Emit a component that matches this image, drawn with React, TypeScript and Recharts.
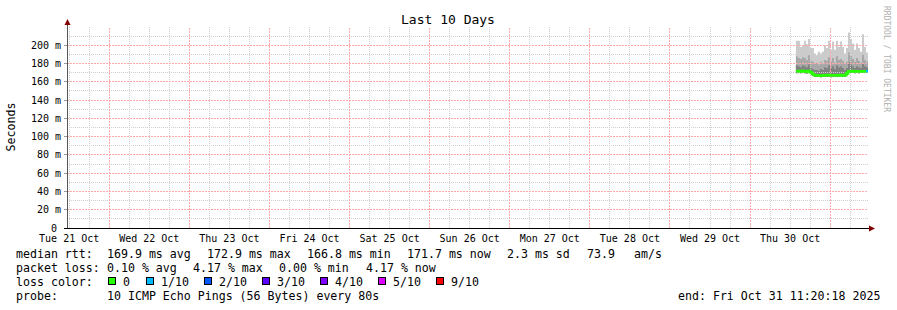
import React from 'react';
import { ComposedChart, Area, Line, XAxis, YAxis, ReferenceLine } from 'recharts';

// axis labels
const dayLabels = ['Tue 21 Oct', 'Wed 22 Oct', 'Thu 23 Oct', 'Fri 24 Oct', 'Sat 25 Oct', 'Sun 26 Oct', 'Mon 27 Oct', 'Tue 28 Oct', 'Wed 29 Oct', 'Thu 30 Oct'];
const yTicks = [0, 20, 40, 60, 80, 100, 120, 140, 160, 180, 200];

// loss legend
const lossSteps = [0, 1, 2, 3, 4, 5, 9];
const lossLabels = ['0', '1/10', '2/10', '3/10', '4/10', '5/10', '9/10'];
const lossPalette = ['#26ff00', '#00b8ff', '#0059ff', '#5e00ff', '#7e00ff', '#dd00ff', '#ff0000'];

// rtt samples (ms), one per step, hours since Oct 21 11:20:18
const firstHour = 218.4;
const stepHours = 0.6;
const maxRtt = [205, 205, 198, 200, 205, 201, 207, 197, 197, 191, 189, 193, 191, 193, 200, 197, 205, 195, 204, 195, 205, 198, 204, 198, 191, 197, 214, 207, 202, 195, 202, 197, 193, 212, 198, 192];
const upperRtt = [188, 186, 185, 187, 186, 184, 189, 183, 182, 180, 181, 179, 182, 180, 184, 183, 187, 182, 186, 181, 188, 184, 185, 183, 180, 182, 192, 188, 185, 182, 186, 183, 181, 190, 184, 182];
const innerRtt = [178, 177, 176, 178, 177, 176, 179, 175, 174, 173, 173, 172, 174, 173, 176, 175, 178, 175, 177, 174, 178, 176, 177, 175, 173, 175, 181, 179, 177, 175, 177, 176, 175, 180, 177, 176];
const medianRtt = [171.5, 171.8, 171.2, 172.0, 171.5, 171.0, 171.8, 170.5, 168.5, 167.2, 166.8, 167.0, 166.6, 167.2, 166.9, 167.1, 167.5, 166.8, 167.0, 167.3, 166.9, 167.2, 167.6, 167.0, 167.3, 169.0, 171.6, 171.4, 171.8, 171.3, 171.6, 171.2, 171.7, 171.4, 171.5, 171.7];
const minRtt = [169.5, 169.8, 169.5, 170, 169.5, 169, 169.8, 168.5, 166.5, 165.5, 165.2, 165.3, 165, 165.5, 165.2, 165.4, 165.8, 165, 165.3, 165.6, 165.2, 165.5, 165.8, 165.3, 165.5, 167, 169.8, 169.6, 170, 169.5, 169.8, 169.4, 169.9, 169.6, 169.7, 169.9];
const lossCount = [0, 0, 0, 0, 0, 0, 0, 0, 0, 0, 0, 0, 0, 0, 0, 0, 0, 0, 0, 0, 0, 0, 0, 0, 0, 0, 0, 0, 0, 0, 0, 0, 0, 0, 0, 1];

// legend text fields and their left edges
const rttFields = ['169.9 ms avg', '172.9 ms max', '166.8 ms min', '171.7 ms now', '2.3 ms sd', '73.9', 'am/s'];
const rttFieldX = [107, 207, 307, 407, 507, 587, 634];
const lossFields = ['0.10 % avg', '4.17 % max', '0.00 % min', '4.17 % now'];
const lossFieldX = [107, 193, 279, 366];

const W = 897;
const H = 310;
const mono = '"DejaVu Sans Mono", monospace';

const lossIndex = (n: number) => {
  let k = 0;
  lossSteps.forEach((s, i) => { if (n >= s) k = i; });
  return k;
};

const usedColors = Array.from(new Set(lossCount.map(lossIndex)));

const rows: any[] = maxRtt.map((_, i) => {
  const r: any = {
    t: firstHour + i * stepHours,
    outer: [minRtt[i], maxRtt[i]],
    mid: [minRtt[i], upperRtt[i]],
    inner: [minRtt[i], innerRtt[i]],
  };
  usedColors.forEach((c) => {
    const own = lossIndex(lossCount[i]) === c;
    const prev = i > 0 && lossIndex(lossCount[i - 1]) === c;
    r['m' + c] = own || prev ? medianRtt[i] : null;
  });
  return r;
});
// closing row at the end time
{
  const last = maxRtt.length - 1;
  const r: any = {
    t: firstHour + maxRtt.length * stepHours,
    outer: [minRtt[last], maxRtt[last]],
    mid: [minRtt[last], upperRtt[last]],
    inner: [minRtt[last], innerRtt[last]],
  };
  usedColors.forEach((c) => {
    r['m' + c] = lossIndex(lossCount[last]) === c ? medianRtt[last] : null;
  });
  rows.push(r);
}

const noonOffset = 0.66;
const labelTicks = dayLabels.map((_, k) => noonOffset + 24 * k);
const majorX = dayLabels.map((_, k) => noonOffset + 12 + 24 * k);
const minorX: number[] = [];
for (let k = 0; k < 40; k++) if (k % 4 !== 2) minorX.push(noonOffset + 6 * k);
const minorY: number[] = [];
for (let v = 10; v <= 210; v += 20) minorY.push(v);
const majorY = yTicks.filter((v) => v > 0);

const YTick = (props: any) => {
  const { y, payload } = props;
  const v = payload.value;
  return (
    <g>
      <line x1={64} x2={67} y1={y} y2={y} stroke="#999" shapeRendering="crispEdges" />
      <text x={v === 0 ? 57 : 61} y={y} textAnchor="end" dominantBaseline="central" fontFamily={mono} fontSize={10} fill="#000">
        {v === 0 ? '0' : `${v} m`}
      </text>
    </g>
  );
};

const XTick = (props: any) => {
  const { x, index } = props;
  return (
    <text x={x} y={238} textAnchor="middle" dominantBaseline="central" fontFamily={mono} fontSize={10} fill="#000">
      {dayLabels[index]}
    </text>
  );
};

const txt = (left: number, top: number, s: string, key?: any) => (
  <div key={key} style={{ position: 'absolute', left, top, fontSize: 11.6, lineHeight: '14px', whiteSpace: 'pre', color: '#000' }}>{s}</div>
);

export default function App() {
  return (
    <div style={{ position: 'absolute', left: 0, top: 0, width: W, height: H, background: '#fff', fontFamily: mono }}>
      <ComposedChart width={W} height={H} data={rows} margin={{ top: 27, right: 29, bottom: 62, left: 0 }}>
        <XAxis dataKey="t" type="number" domain={[0, 240]} ticks={labelTicks} tick={<XTick />} tickLine={false} axisLine={false} height={20} interval={0} allowDataOverflow />
        <YAxis type="number" domain={[0, 220]} ticks={yTicks} tick={<YTick />} tickLine={false} axisLine={false} width={67} interval={0} allowDataOverflow />
        {minorY.map((v) => (
          <ReferenceLine key={'my' + v} y={v} stroke="#cfcfcf" strokeDasharray="1 1" shapeRendering="crispEdges" />
        ))}
        {minorX.map((v) => (
          <ReferenceLine key={'mx' + v} x={v} stroke="#cfcfcf" strokeDasharray="1 1" shapeRendering="crispEdges" />
        ))}
        {majorY.map((v) => (
          <ReferenceLine key={'My' + v} y={v} stroke="#ffaaaa" strokeDasharray="2 1" shapeRendering="crispEdges" />
        ))}
        {majorX.map((v) => (
          <ReferenceLine key={'Mx' + v} x={v} stroke="#ffaaaa" strokeDasharray="2 1" shapeRendering="crispEdges" />
        ))}
        <Area dataKey="outer" type="stepAfter" fill="#cbcbcb" fillOpacity={1} stroke="none" isAnimationActive={false} dot={false} activeDot={false} />
        <Area dataKey="mid" type="stepAfter" fill="#a8a8a8" fillOpacity={1} stroke="none" isAnimationActive={false} dot={false} activeDot={false} />
        <Area dataKey="inner" type="stepAfter" fill="#828282" fillOpacity={1} stroke="none" isAnimationActive={false} dot={false} activeDot={false} />
        {usedColors.map((c) => (
          <Line key={c} dataKey={'m' + c} type="stepAfter" stroke={lossPalette[c]} strokeWidth={2.5} dot={false} activeDot={false} isAnimationActive={false} />
        ))}
      </ComposedChart>

      {/* axes with arrows, title, side labels */}
      <svg width={W} height={H} style={{ position: 'absolute', left: 0, top: 0, pointerEvents: 'none' }}>
        <line x1={67.5} y1={229} x2={67.5} y2={24} stroke="#555" />
        <polygon points="64.5,25 70.5,25 67.5,19" fill="#800000" />
        <line x1={64} y1={228.5} x2={870} y2={228.5} stroke="#000" />
        <polygon points="869,225.5 869,231.5 875,228.5" fill="#800000" />
        <text x={448} y={19} textAnchor="middle" dominantBaseline="central" fontFamily={mono} fontSize={13} fill="#000">Last 10 Days</text>
        <text x={11} y={127} textAnchor="middle" dominantBaseline="central" fontFamily={mono} fontSize={11.6} fill="#000" transform="rotate(-90 11 127)">Seconds</text>
        <text x={886} y={59} textAnchor="middle" dominantBaseline="central" fontFamily={mono} fontSize={8} fill="#b0b0b0" transform="rotate(90 886 59)">RRDTOOL / TOBI OETIKER</text>
      </svg>

      {txt(16, 247, 'median rtt:')}
      {rttFields.map((s, i) => txt(rttFieldX[i], 247, s, 'r' + i))}
      {txt(16, 261, 'packet loss:')}
      {lossFields.map((s, i) => txt(lossFieldX[i], 261, s, 'l' + i))}
      {txt(16, 275, 'loss color:')}
      {lossLabels.map((l, i) => {
        const left = i === 0 ? 108 : 146 + (i - 1) * 58;
        return (
          <React.Fragment key={l}>
            <div style={{ position: 'absolute', left, top: 277, width: 6, height: 6, border: '1px solid #000', background: lossPalette[i] }} />
            {txt(left + 15, 275, l)}
          </React.Fragment>
        );
      })}
      {txt(16, 289, 'probe:')}
      {txt(107, 289, '10 ICMP Echo Pings (56 Bytes) every 80s')}
      {txt(678, 289, 'end: Fri Oct 31 11:20:18 2025')}
    </div>
  );
}
